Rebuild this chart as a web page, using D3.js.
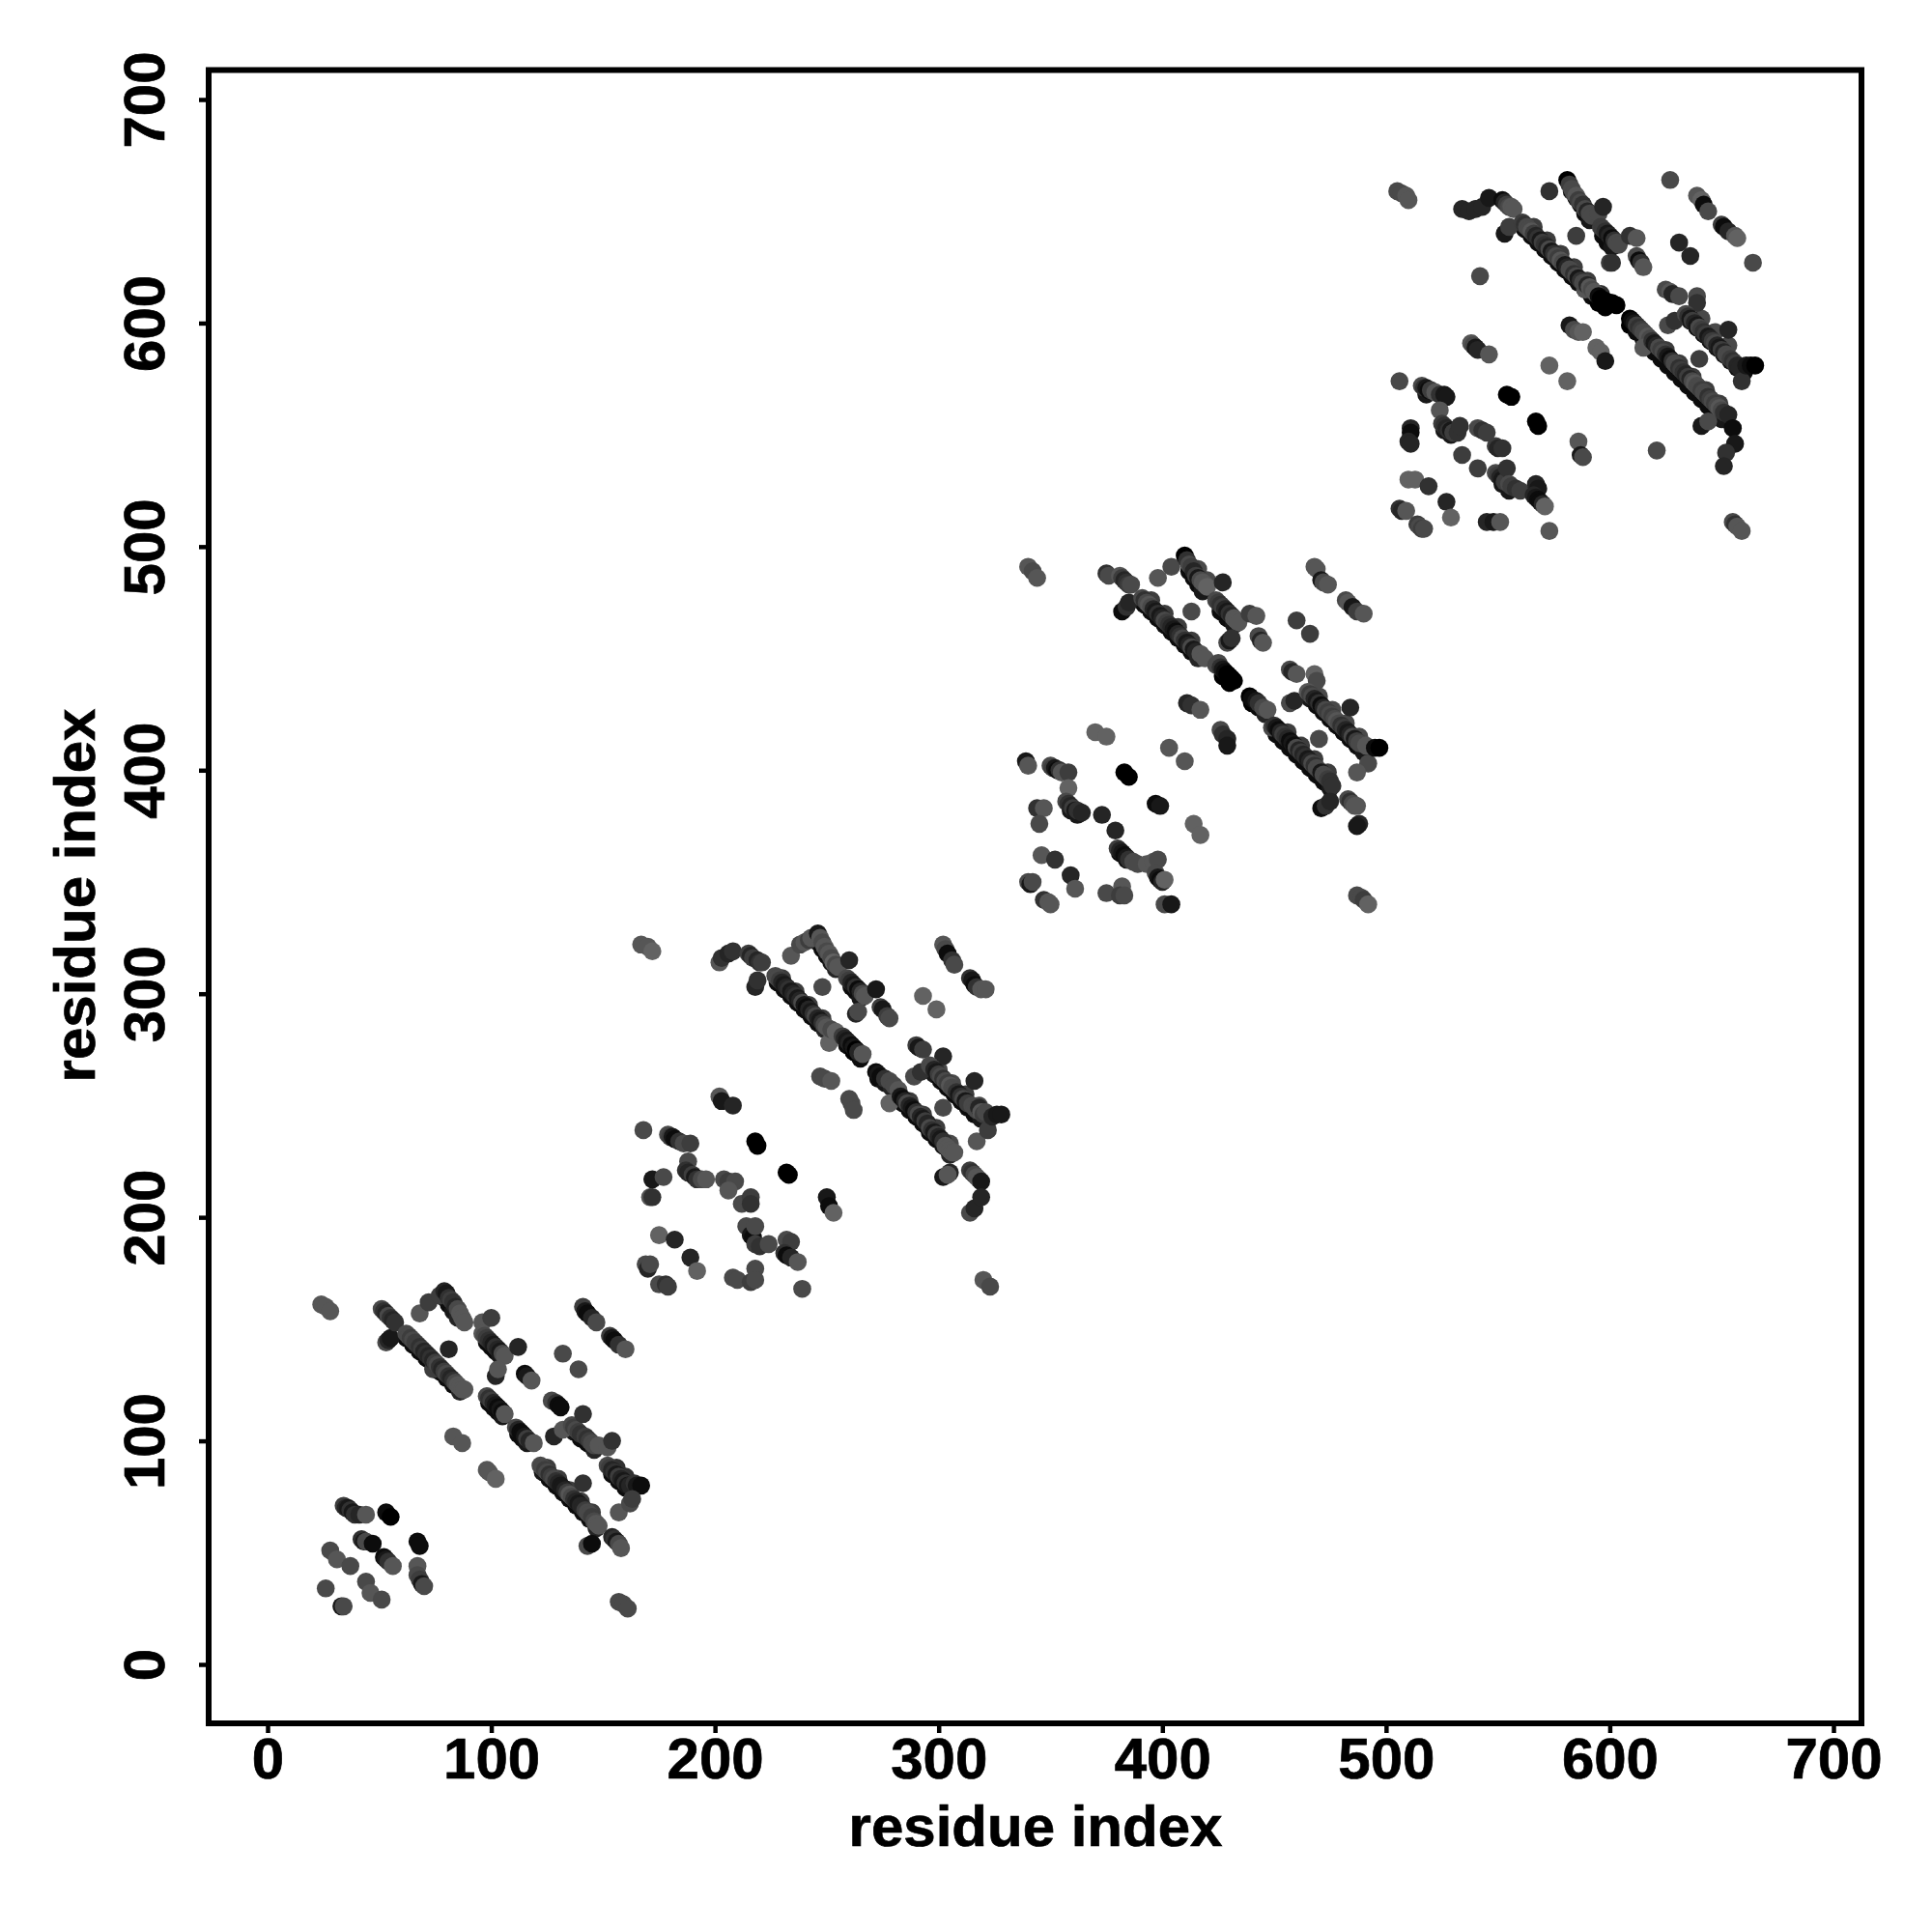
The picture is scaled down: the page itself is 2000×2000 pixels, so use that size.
<!DOCTYPE html>
<html><head><meta charset="utf-8">
<script src="https://cdn.jsdelivr.net/npm/d3@7"></script>
<style>html,body{margin:0;background:#fff}svg{display:block}</style></head>
<body><div id="c"></div>
<script>
const xTicks=[0,100,200,300,400,500,600,700];
const yTicks=[0,100,200,300,400,500,600,700];
const xTitle="residue index";
const yTitle="residue index";
// secondary contacts that sit beneath the main strands: [residue i, residue j, weight]
const contactsUnder=[
[62,146,8],[65,143,8],[68,140,8],[71,137,8],[74,134,8],[77,131,8],[80,128,8],[83,125,8],[86,122,6],[79,164,8],[81,161,8],[83,158,7],[85,155,6],[98,144,8],[100,142,8],[102,140,8],[104,138,7],[99,117,8],[101,115,8],[103,113,8],[105,111,7],[112,103,8],[114,101,8],[116,99,7],[123,86,7],[126,83,8],[129,80,8],[132,77,8],[135,74,8],[138,71,8],[141,68,8],[144,65,8],[147,61,6],[137,104,7],[140,101,8],[143,99,8],[146,96,6],[154,85,8],[157,82,8],[160,79,8],[163,78,8],[156,88,5],[160,84,5],[125,88,4],[130,83,4],[135,78,4],[140,73,4],[145,68,4],
[228,305,8],[231,302,8],[234,299,8],[237,296,8],[240,293,8],[243,290,8],[246,287,8],[249,284,6],[259,277,8],[262,274,9],[265,271,8],[246,323,7],[248,320,8],[250,317,8],[252,314,7],[254,311,6],[261,303,8],[263,301,8],[265,298,7],[298,264,7],[301,261,8],[304,258,8],[307,255,8],[310,252,8],[313,249,8],[316,246,8],[319,244,7],[284,251,8],[287,248,8],[290,245,8],[293,242,8],[296,238,8],[299,235,8],[302,232,7],[305,228,6],[273,262,8],[276,260,7],[279,258,6],[230,307,4],[236,301,4],[242,295,4],[248,289,4],[287,252,4],[293,246,4],[299,240,4],[305,233,3],[300,266,3],[306,260,3],[312,255,4],[318,250,3],
[392,474,8],[395,471,8],[398,468,8],[401,465,8],[404,462,8],[407,459,8],[410,456,8],[413,453,8],[416,450,6],[427,442,9],[430,439,9],[412,489,8],[414,486,8],[416,483,8],[418,480,7],[426,471,8],[429,468,8],[432,465,7],[440,430,9],[443,428,8],[446,425,6],[451,416,8],[454,413,8],[457,410,8],[460,407,8],[463,404,8],[466,401,8],[469,398,8],[472,395,8],[475,392,7],[466,432,7],[469,429,8],[472,426,8],[475,423,8],[478,420,8],[481,417,8],[484,414,8],[487,411,8],[490,408,7],[381,363,8],[384,360,8],[359,382,7],[362,380,7],[395,476,4],[401,470,4],[407,464,4],[413,458,4],[456,417,4],[462,411,4],[468,405,4],[474,399,4],[470,433,3],[476,427,3],[482,421,3],[488,415,3],[416,490,3],[420,485,3],
[562,642,8],[565,639,8],[568,636,8],[571,633,8],[574,630,8],[577,627,8],[580,624,8],[583,621,8],[586,618,8],[589,615,8],[592,612,8],[595,609,9],[598,607,9],[609,599,9],[612,596,8],[615,593,8],[620,587,8],[623,584,8],[626,581,8],[629,578,8],[632,575,8],[635,572,8],[638,569,8],[641,566,8],[644,563,8],[647,560,8],[650,557,7],[583,659,8],[585,656,8],[587,653,8],[589,649,8],[591,646,7],[597,639,8],[599,636,8],[601,634,7],[636,601,7],[639,598,8],[642,595,8],[645,592,8],[648,589,8],[651,586,8],[654,583,8],[657,580,8],[660,578,8],[566,643,4],[572,637,4],[578,631,4],[584,625,4],[590,619,4],[596,613,5],[625,588,4],[631,582,4],[637,576,4],[643,570,4],[649,564,4],[641,602,3],[647,596,3],[653,590,3],[518,568,7],[526,552,7],[529,550,7],[552,528,7],[555,525,7]
];
// [residue i, residue j, contact weight 0..9]
const contacts1=[
[24,161,2],[26,160,2],[28,158,2],
[53,144,3],[54,145,6],[55,146,7],
[51,159,3],[52,158,5],[53,157,6],[54,156,3],[55,155,5],[56,154,6],[57,153,5],
[74,132,4],[68,157,2],[72,162,4],
[62,148,3],[63,147,3],[64,146,4],[65,145,3],[66,144,4],[67,143,4],[68,142,5],[69,141,4],[70,140,6],[71,139,5],[72,138,6],[73,137,5],[74,136,6],[75,135,4],[76,134,3],[77,133,5],[78,132,6],[79,131,4],[80,130,3],[81,129,5],[82,128,6],[83,127,5],[84,126,3],[85,125,2],[86,124,2],[87,123,2],[88,123,2],[81,141,6],
[77,165,4],[79,167,6],[80,166,7],[81,164,5],[82,163,4],[83,162,5],[84,160,6],[85,159,3],[86,157,2],[87,155,2],[88,153,2],
[96,153,2],[100,155,4],[96,148,2],[97,147,3],[98,146,4],[99,145,5],[100,144,6],[101,143,7],[102,142,5],[103,141,6],[104,140,7],[105,139,3],[106,138,2],[112,142,6],
[102,129,6],[103,132,2],
[115,130,8],[116,129,7],[118,127,2],
[98,120,3],[99,119,5],[100,118,4],[101,117,6],[102,116,7],[103,115,8],[104,114,7],[105,113,8],[106,112,2],
[83,102,2],[87,99,2],
[98,87,2],[99,86,2],[102,83,1],
[111,106,3],[112,105,6],[113,104,8],[114,103,8],[115,102,7],[116,101,4],[117,100,6],[119,99,2],
[127,118,3],[129,117,5],[130,116,8],[131,115,8],
[132,139,3],[139,132,3],
[141,160,4],[142,158,7],[143,157,8],[145,155,6],[147,153,3],
[153,147,4],[154,146,7],[155,145,8],[157,143,5],[160,141,2],
[128,102,6],[132,105,2],[136,107,3],[137,106,4],[138,105,3],[139,104,4],[140,103,5],[141,112,5],[142,102,4],[143,101,5],[144,100,4],[145,99,3],[146,98,3],[148,98,2],[152,97,2],[154,100,5],
[122,89,3],[123,88,3],[124,87,4],[125,86,3],[126,85,5],[127,84,4],[128,83,3],[129,82,5],[130,81,6],[131,80,7],[132,79,7],[133,78,6],[134,77,4],[135,76,2],[136,75,3],[137,74,5],[138,73,6],[139,72,7],[140,71,6],[141,81,5],[141,70,6],[142,69,4],[143,68,3],[144,67,3],[145,66,4],[146,64,3],[147,63,2],[148,62,2],
[152,89,3],[153,88,4],[154,87,6],[155,86,5],[156,85,7],[157,84,4],[158,83,6],[159,82,7],[160,81,5],[161,80,7],[162,80,6],[164,81,5],[165,80,7],[167,80,8],
[157,68,2],[162,72,3],[163,74,4],
[154,57,6],[155,56,5],[156,55,7],[157,54,3],[158,52,2],
[143,53,3],[145,54,8],
[157,28,3],[159,27,3],[161,25,3],
[34,71,4],[35,70,6],[36,70,7],[37,69,5],[38,68,7],[39,67,5],[41,67,6],[44,67,2],
[53,68,8],[55,66,9],
[42,56,5],[43,55,7],[44,55,3],[47,54,8],
[67,55,8],[68,53,8],
[28,51,3],[31,47,2],[37,44,3],
[52,48,8],[53,47,7],[54,46,5],[56,44,2],
[67,44,2],[67,40,3],[68,38,4],[69,36,7],[70,35,3],
[44,37,3],[46,32,2],[51,29,3],
[26,34,3],[33,26,7],[34,26,3]
];
const contacts2=[
[167,322,2],[170,321,2],[172,319,1],
[202,314,2],[203,316,5],[206,318,6],[208,319,5],
[215,318,4],[216,317,6],[217,316,4],[218,303,6],[219,306,5],[219,315,6],[220,314,5],[221,314,4],
[227,308,3],[228,307,3],[229,306,4],[230,305,6],[231,304,7],[232,303,6],[233,302,5],[234,301,7],[235,300,6],[236,299,5],[237,298,7],[238,297,6],[239,296,3],[240,295,7],[241,294,8],[242,293,6],[243,292,7],[244,291,5],[245,290,3],[246,289,6],[247,288,7],[248,303,3],[248,287,5],[249,286,3],[250,285,2],[251,278,1],[252,284,3],[254,283,1],
[257,281,4],[258,280,6],[259,279,7],[260,278,6],[261,277,8],[262,276,7],[263,275,9],[264,274,6],[266,273,2],
[234,317,2],[238,322,3],[240,323,2],[242,324,4],[243,325,2],[246,327,7],[247,325,2],[248,323,3],[249,321,2],[250,319,3],[251,318,2],[252,316,3],[253,314,1],[254,313,3],[255,312,2],[260,315,6],
[259,307,3],[260,306,4],[261,305,6],[262,304,7],[263,303,5],[263,291,6],[264,302,8],[264,292,3],[265,301,6],[266,300,3],[267,299,2],[272,302,7],
[274,294,4],[275,293,7],[277,290,4],[278,289,3],
[293,299,1],[299,293,1],
[302,322,2],[303,320,3],[304,318,8],[306,315,5],[307,313,3],
[314,307,5],[315,306,7],[316,304,8],[317,303,5],[319,302,2],[321,302,2],
[290,277,4],[291,276,7],[293,275,4],
[302,272,6],[289,263,3],[292,265,5],
[296,268,3],[297,267,3],[298,266,6],[299,265,7],[300,264,4],[301,263,3],[302,262,5],[303,261,3],[304,260,4],[305,259,2],[306,258,3],[307,257,3],[308,256,5],[309,255,7],[310,254,5],[311,253,3],[312,252,7],[313,251,4],[316,261,6],[315,250,3],[316,249,3],[317,248,3],[318,249,6],[319,247,2],[320,246,4],[321,247,3],[317,234,2],[322,239,4],[324,245,6],[326,246,7],[328,246,7],
[247,263,3],[249,262,3],[252,261,2],
[260,253,3],[261,251,3],[262,248,3],
[272,265,8],[273,264,7],[274,263,8],[276,262,5],[278,261,3],[280,259,3],[282,257,2],
[278,251,1],
[283,254,7],[284,253,8],[285,252,6],[286,251,3],[287,250,6],[288,249,7],[289,248,8],[290,247,5],[291,246,3],[292,245,6],[293,244,7],[294,243,4],[295,242,6],[296,240,3],[297,239,5],[298,238,7],[302,249,3],[299,237,4],[300,236,6],[301,235,7],[302,234,5],[303,232,2],[304,231,2],[305,230,2],[306,229,2],[307,229,2],
[302,218,7],[305,220,6],[304,219,2],
[314,221,4],[315,220,5],[316,219,3],[317,218,2],[318,217,2],[319,216,7],
[314,202,3],[316,204,6],[319,209,6],
[320,172,2],[323,169,3],
[202,254,2],[203,252,7],[208,250,6],
[168,239,3],
[179,237,3],[180,236,4],[181,236,7],[182,235,8],[184,234,5],[186,233,3],[189,233,4],
[218,234,9],[219,232,9],
[232,220,9],[233,219,9],
[172,217,7],[177,218,3],[171,209,2],[172,209,5],
[188,225,3],[187,221,5],[188,220,6],[190,219,4],[191,218,7],[192,217,5],[194,217,3],[196,217,2],
[204,217,3],[206,216,4],[209,216,3],[206,212,2],
[212,206,3],[216,209,4],[216,206,5],
[250,209,7],[251,205,8],[253,202,1],
[214,196,3],[216,192,7],[217,191,8],[218,196,3],[218,188,4],[220,187,5],[224,188,3],[232,190,3],[234,189,4],[231,184,5],[232,183,8],[234,182,6],[237,180,2],
[175,192,1],[182,190,6],[189,182,6],[192,176,1],
[169,179,3],[170,177,6],[171,179,3],
[175,170,3],[178,170,5],[179,169,4],
[208,173,3],[210,172,3],[218,177,3],[216,171,4],[218,172,3],
[239,168,3]
];
const contacts3=[
[340,491,2],[342,489,3],[344,486,2],
[375,488,5],[376,487,3],
[381,487,2],[382,486,4],[383,485,6],[384,484,5],[385,483,4],[386,483,3],
[382,471,8],[384,473,5],[385,475,6],[404,491,3],[398,486,2],
[391,477,3],[392,476,5],[393,475,3],[394,474,2],[395,473,3],[396,472,6],[397,471,7],[398,470,5],[399,469,7],[400,468,6],[401,467,3],[402,466,4],[403,465,5],[404,464,6],[405,463,7],[406,462,8],[407,461,6],[408,460,5],[409,459,3],[410,458,5],[411,457,7],[412,456,6],[413,471,3],[413,455,3],[414,454,7],[415,453,6],[417,452,2],[419,450,2],
[424,447,3],[425,448,3],[426,446,5],[427,445,7],[428,444,8],[429,443,9],[430,442,9],[431,441,9],[432,440,9],
[439,433,9],[440,432,8],[442,431,7],[443,430,5],[445,428,3],[447,427,2],
[410,496,9],[411,494,5],[412,492,3],[413,491,4],[414,489,6],[415,487,4],[416,486,7],[417,485,3],[418,484,2],[419,483,2],[420,482,1],[427,484,6],
[424,476,3],[425,475,4],[426,474,5],[427,473,4],[428,472,6],[429,471,7],[430,470,5],[431,469,6],[432,468,2],[433,467,2],[434,466,2],[439,470,4],[442,469,2],
[429,457,3],[430,458,7],[431,459,5],
[443,460,3],[444,458,6],[445,457,2],
[449,419,3],[450,420,5],[451,419,7],[452,418,8],[453,417,6],[454,416,4],[455,415,5],[456,414,6],[457,413,8],[458,412,7],[459,411,8],[460,410,3],[461,409,6],[462,408,4],[463,407,6],[464,406,5],[465,405,7],[466,404,6],[467,403,3],[468,402,5],[470,414,3],[469,401,3],[470,400,3],[471,399,7],[472,398,3],[473,397,3],[474,396,4],[475,395,5],[476,393,5],
[471,383,8],[473,384,5],[475,386,6],
[483,387,3],[484,386,5],[485,385,3],[486,384,2],[487,384,2],[488,376,6],[487,375,7],
[460,467,4],[466,461,4],
[468,491,2],[469,490,2],[471,485,7],[472,484,3],[474,483,2],
[482,476,3],[483,475,2],[485,473,7],[487,471,4],[490,470,2],
[457,445,3],[458,444,6],[460,443,2],
[468,443,1],[469,440,3],[457,430,3],[459,431,6],
[465,435,2],[466,434,4],[467,433,3],[468,432,6],[469,431,7],[470,430,5],[471,429,8],[472,428,6],[473,427,3],[474,426,4],[475,425,3],[476,424,4],[477,423,3],[478,422,2],[479,421,3],[480,420,5],[481,419,4],[482,418,6],[484,428,6],[483,417,7],[484,416,6],[485,415,3],[486,414,7],[487,413,4],[488,412,3],[491,411,2],[492,403,3],[487,399,2],[495,410,8],[497,410,9],
[411,430,6],[413,429,5],[417,427,2],
[426,418,3],[427,416,5],[429,414,6],[429,411,7],
[370,417,1],[375,415,1],
[403,410,2],[410,404,2],
[339,404,7],[340,402,2],
[350,402,3],[351,401,4],[352,401,7],[353,400,8],[354,400,5],[355,399,2],[358,399,4],
[383,399,9],[385,397,9],
[397,385,8],[399,384,7],
[344,383,5],[347,383,2],[345,376,3],
[358,392,1],[357,386,3],[358,385,5],[359,384,6],[360,383,4],[361,382,7],[362,382,5],[364,381,6],
[373,380,6],[379,373,6],
[380,365,4],[381,364,6],[382,363,7],[383,362,8],[384,361,7],[385,360,5],[387,359,3],[389,358,3],[393,358,2],[396,359,2],[398,360,3],[397,354,3],[398,352,7],[399,351,8],[400,350,6],[401,351,1],
[414,376,1],[417,371,1],
[346,362,2],[352,360,5],[359,353,6],[361,347,2],
[340,350,3],[341,349,7],[342,350,3],
[347,342,5],[349,341,2],[350,340,2],
[375,345,3],[382,348,2],[381,344,4],[383,344,3],
[401,340,3],[404,340,7],
[487,344,3],[489,343,3],[490,342,4],[492,340,1]
];
const contacts4=[
[505,659,3],[507,658,3],[509,657,2],[510,655,2],
[534,651,6],[537,650,6],[540,651,6],[543,652,6],[546,656,7],
[552,655,8],[553,654,6],[554,653,4],[555,652,3],[556,652,2],[557,651,2],
[553,640,7],[555,643,4],
[561,645,4],[562,644,5],[563,643,3],[564,642,3],[565,641,2],[566,640,4],[567,639,6],[568,638,5],[569,637,7],[570,636,4],[571,635,5],[572,634,6],[573,633,3],[574,632,7],[575,631,5],[576,630,3],[577,629,4],[578,628,2],[579,627,3],[580,626,7],[581,625,6],[582,624,3],[583,623,3],[585,639,4],[584,622,5],[585,621,3],[586,620,7],[587,619,5],[589,615,2],[588,618,3],[589,618,3],[590,617,6],[591,616,2],[592,615,3],[593,614,2],[594,613,2],[595,612,8],[596,611,9],[597,610,9],[598,610,9],[600,609,9],[601,609,9],[603,608,9],
[609,602,9],[610,601,8],[611,600,7],[612,599,4],[613,598,5],[614,597,4],[615,596,3],[616,595,3],[617,594,2],[618,593,3],[615,589,2],[619,592,5],[620,591,7],[621,590,6],[622,589,3],[623,588,4],[624,587,3],[625,586,5],[626,585,7],[627,584,8],[628,583,5],[629,582,3],[630,581,3],[631,580,5],[632,579,4],[633,578,5],[634,577,6],[635,576,4],[636,575,6],[637,574,3],[638,573,2],[639,572,3],[640,584,4],[640,571,3],[641,570,4],[642,569,3],[643,568,3],[644,567,5],[645,566,4],[646,565,3],[647,564,4],[641,554,7],[644,556,3],[648,563,3],[649,562,2],[650,561,3],[651,560,5],[653,559,6],[655,553,8],[656,546,7],[652,542,5],[651,536,6],
[573,659,5],
[581,664,9],[582,662,4],[583,660,3],[584,658,3],[585,657,2],[586,655,4],[587,654,3],[588,653,5],[589,651,3],[590,650,6],[591,649,3],[592,648,3],[595,649,3],[597,652,6],
[596,643,4],[597,642,4],[598,641,5],[599,640,7],[600,639,6],[601,638,8],[602,637,5],[603,636,3],[604,635,3],[600,627,4],[601,627,5],[609,639,5],[612,638,2],
[612,630,3],[613,628,8],[614,627,5],[615,625,2],
[542,621,3],
[631,636,6],[636,630,6],
[627,664,3],[664,627,3],
[639,657,2],[641,655,1],[642,653,8],[644,650,3],
[650,644,4],[651,643,8],[653,641,6],[656,639,2],[657,638,1],
[625,615,3],[627,614,2],[628,613,6],[631,612,3],
[639,612,3],[639,609,5],
[626,599,3],[629,601,5],
[634,604,3],[635,603,5],[636,602,7],[637,601,4],[638,600,6],[639,599,7],[640,598,3],[641,597,4],[642,596,5],[643,595,4],[644,594,7],[645,593,6],[646,592,4],[647,591,3],[648,590,6],[649,589,7],[650,588,4],[651,587,6],[652,586,3],[653,597,6],[653,585,3],[654,584,4],[655,583,5],[656,582,4],[657,581,6],[658,580,6],[659,574,5],[661,581,7],[663,581,8],[665,581,9],
[582,599,7],[584,597,3],[586,596,2],[588,596,1],
[594,589,1],[596,587,1],[598,583,7],
[538,591,2],[539,590,3],[540,589,7],[541,588,6],[546,586,2],
[573,581,1],[581,574,1],
[506,574,3],
[516,572,3],[517,571,5],[518,571,7],[519,570,8],[520,570,4],[522,569,2],[524,568,5],[526,568,7],[527,567,7],
[554,568,9],[556,567,9],
[567,556,9],[568,554,9],
[511,553,6],[511,551,8],[510,547,6],[511,546,6],
[524,561,2],[525,555,4],[526,554,5],[527,553,6],[528,552,5],[529,552,7],[530,551,4],[532,551,5],[533,554,5],
[541,553,3],[543,552,5],[545,551,4],
[549,545,4],[550,544,6],[552,544,5],
[534,541,4],[541,535,4],
[549,533,3],[550,532,4],[551,531,6],[552,530,7],[553,529,4],[554,535,5],[555,528,3],[556,527,4],[558,526,5],[560,525,4],
[567,528,6],[568,526,7],[566,523,6],[567,522,7],[568,521,8],[569,520,8],[570,519,6],[571,518,1],
[573,507,2],
[586,547,2],[587,541,7],[588,540,3],
[621,543,3],
[510,530,1],[513,530,1],[519,527,5],[527,520,6],[529,513,1],
[506,517,5],[507,516,6],[509,516,2],
[514,510,4],[515,509,3],[516,508,4],[517,508,3],
[545,511,6],[548,511,7],[551,511,2],
[655,511,3],[656,510,5],[657,509,2],[659,507,2]
];
const W=2000,H=2000;
const x=d3.scaleLinear().domain([0,700]).range([277,1898]);
const y=d3.scaleLinear().domain([0,700]).range([1723,103]);
const shade=d3.scaleLinear().domain([0,9]).range(["#6e6e6e","#000000"]);
const svg=d3.select("#c").append("svg").attr("width",W).attr("height",H);
const font='"Liberation Sans",Arial,sans-serif';
svg.append("g").selectAll("circle").data([contactsUnder,contacts1,contacts2,contacts3,contacts4].flat()).join("circle")
 .attr("cx",d=>x(d[0])).attr("cy",d=>y(d[1])).attr("r",9.3).attr("fill",d=>shade(d[2]));
svg.append("rect").attr("x",216).attr("y",72.5).attr("width",1711).attr("height",1711.5)
 .attr("fill","none").attr("stroke","#000").attr("stroke-width",6);
const style=s=>s.attr("font-family",font).attr("font-weight",700).attr("font-size",60).attr("fill","#000").attr("stroke","#000").attr("stroke-width",0.7);
const ax=svg.append("g").attr("transform","translate(0,1784)").call(d3.axisBottom(x).tickValues(xTicks).tickSize(10).tickPadding(4).tickFormat(d3.format("d")));
ax.select(".domain").remove();
ax.selectAll("line").attr("stroke","#000").attr("stroke-width",4.5);
ax.selectAll("text").call(style);
const ay=svg.append("g").attr("transform","translate(216,0)").call(d3.axisLeft(y).tickValues(yTicks).tickSize(10).tickFormat(d3.format("d")));
ay.select(".domain").remove();
ay.selectAll("line").attr("stroke","#000").attr("stroke-width",4.5);
ay.selectAll("text").call(style)
 .attr("x",0).attr("dy",0).attr("text-anchor","middle")
 .attr("transform","translate(-46,0) rotate(-90)");
svg.append("text").attr("x",1072).attr("y",1911).attr("text-anchor","middle").call(style).text(xTitle);
svg.append("text").attr("transform","translate(98,927) rotate(-90)").attr("text-anchor","middle").call(style).text(yTitle);
</script></body></html>
